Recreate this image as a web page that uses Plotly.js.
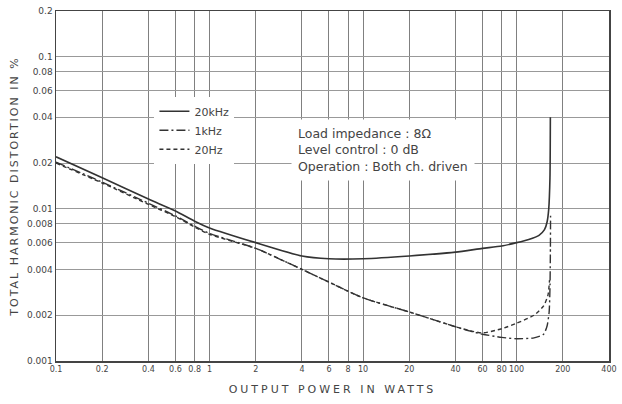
<!DOCTYPE html>
<html>
<head>
<meta charset="utf-8">
<script src="https://cdn.plot.ly/plotly-3.0.1.min.js"></script>
<style>
html,body{margin:0;padding:0;background:#fff;}
#chart{width:622px;height:404px;}
.xtitle{letter-spacing:3px;}
.ytitle{letter-spacing:2px;}
</style>
</head>
<body>
<div id="chart"></div>
<script>
// Output power (W) and THD (%)
const power20k = [0.1, 0.2, 0.4, 0.6, 0.8, 1, 2, 4, 6, 10, 20, 40, 60, 80, 100, 120, 140, 152, 158, 162, 165, 166];
const thd20k   = [0.022, 0.0160, 0.0116, 0.0097, 0.0083, 0.0075, 0.0060, 0.0049, 0.0047, 0.0047, 0.0049, 0.0052, 0.0055, 0.0057, 0.0060, 0.0063, 0.0067, 0.0073, 0.0082, 0.0100, 0.016, 0.040];

const power1k = [0.1, 0.2, 0.4, 0.6, 0.8, 1, 2, 4, 6, 10, 20, 40, 50, 60, 80, 100, 130, 150, 158, 163, 165, 166, 166.5];
const thd1k   = [0.0203, 0.0150, 0.0109, 0.0090, 0.0077, 0.0069, 0.0055, 0.0040, 0.0033, 0.0026, 0.0021, 0.00168, 0.00157, 0.00150, 0.00143, 0.00140, 0.00142, 0.00150, 0.00170, 0.0021, 0.0030, 0.0050, 0.0090];

const power20 = [0.1, 0.2, 0.4, 0.6, 0.8, 1, 2, 4, 6, 10, 20, 40, 50, 60, 80, 100, 130, 150, 160, 164];
const thd20   = [0.0200, 0.0148, 0.0107, 0.0089, 0.0076, 0.0068, 0.0055, 0.0040, 0.0033, 0.0026, 0.0021, 0.00168, 0.00158, 0.00153, 0.00163, 0.00177, 0.0020, 0.0023, 0.0027, 0.0034];

const xTickVals = [0.1, 0.2, 0.4, 0.6, 0.8, 1, 2, 4, 6, 8, 10, 20, 40, 60, 80, 100, 200, 400];
const xTickText = ['0.1', '0.2', '0.4', '0.6', '0.8', '1', '2', '4', '6', '8', '10', '20', '40', '60', '80', '100', '200', '400'];
const yTickVals = [0.001, 0.002, 0.004, 0.006, 0.008, 0.01, 0.02, 0.04, 0.06, 0.08, 0.1, 0.2];
const yTickText = ['0.001', '0.002', '0.004', '0.006', '0.008', '0.01', '0.02', '0.04', '0.06', '0.08', '0.1', '0.2'];

const seriesNames = ['20kHz', '1kHz', '20Hz'];
const noteLines = ['Load impedance : 8Ω', 'Level control : 0 dB', 'Operation : Both ch. driven'];

const lineColor = '#333';
const traces = [
  {x: power20k, y: thd20k, name: seriesNames[0], mode: 'lines', line: {color: lineColor, width: 1.6, shape: 'spline', smoothing: 0.6}},
  {x: power1k, y: thd1k, name: seriesNames[1], mode: 'lines', line: {color: lineColor, width: 1.4, dash: '9px,3px,2px,3px', shape: 'spline', smoothing: 0.6}},
  {x: power20, y: thd20, name: seriesNames[2], mode: 'lines', line: {color: lineColor, width: 1.4, dash: '4px,3px', shape: 'spline', smoothing: 0.6}}
];

const fam = 'DejaVu Sans, sans-serif';
const layout = {
  width: 622, height: 404,
  margin: {l: 56, r: 13, t: 11, b: 43},
  paper_bgcolor: '#fff', plot_bgcolor: '#fff',
  font: {family: fam, color: '#444'},
  showlegend: true,
  legend: {
    x: 0.178, y: 0.755, xanchor: 'left', yanchor: 'top',
    bgcolor: '#fff', borderwidth: 0,
    font: {family: fam, size: 11, color: '#444'},
    tracegroupgap: 0, itemwidth: 30
  },
  xaxis: {
    type: 'log', range: [-1, Math.log10(400)],
    tickmode: 'array', tickvals: xTickVals, ticktext: xTickText, tickangle: 0,
    ticks: '', tickfont: {family: fam, size: 8, color: '#444'},
    showgrid: true, gridcolor: '#808080', gridwidth: 1,
    showline: true, linecolor: '#444', linewidth: 1.5, mirror: true,
    zeroline: false,
    title: {text: 'OUTPUT POWER IN WATTS', font: {family: fam, size: 11, color: '#444'}, standoff: 12}
  },
  yaxis: {
    type: 'log', range: [-3, Math.log10(0.2)],
    tickmode: 'array', tickvals: yTickVals, ticktext: yTickText,
    ticks: '', tickfont: {family: fam, size: 9, color: '#444'},
    showgrid: true, gridcolor: '#999', gridwidth: 1,
    showline: true, linecolor: '#444', linewidth: 1.5, mirror: true,
    zeroline: false,
    title: {text: 'TOTAL HARMONIC DISTORTION IN %', font: {family: fam, size: 11, color: '#444'}, standoff: 6}
  },
  annotations: [{
    xref: 'paper', yref: 'paper', x: 0.425, y: 0.603, xanchor: 'left', yanchor: 'middle',
    text: noteLines.join('<br>'), align: 'left', showarrow: false,
    bgcolor: '#fff', borderpad: 6,
    font: {family: fam, size: 12.5, color: '#444'}
  }]
};

Plotly.newPlot('chart', traces, layout, {staticPlot: true, displayModeBar: false});
</script>
</body>
</html>
